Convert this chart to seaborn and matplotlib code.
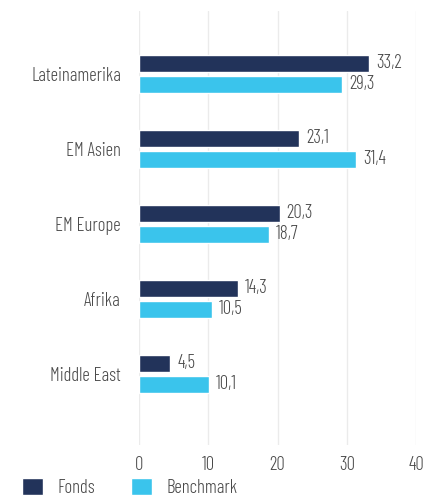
import matplotlib
matplotlib.use("Agg")
import matplotlib.pyplot as plt
from matplotlib.patches import Patch
import pandas as pd
import seaborn as sns

regions = ["Lateinamerika", "EM Asien", "EM Europe", "Afrika", "Middle East"]
fonds = [33.2, 23.1, 20.3, 14.3, 4.5]
benchmark = [29.3, 31.4, 18.7, 10.5, 10.1]
series = ["Fonds", "Benchmark"]
colors = ["#22335A", "#3AC4EC"]
xticks = [0, 10, 20, 30, 40]

sns.set_theme(style="white")
plt.rcParams["font.family"] = ["Barlow Condensed", "DejaVu Sans"]
plt.rcParams["font.weight"] = 300
TXT = "#4A4A4A"
FS = 13.5

df = pd.DataFrame({
    "region": regions * 2,
    "value": fonds + benchmark,
    "series": [series[0]] * len(regions) + [series[1]] * len(regions),
})

fig = plt.figure(figsize=(4.25, 4.99), dpi=100)
ax = fig.add_axes([0.327, 0.108, 0.652, 0.870])
sns.barplot(data=df, x="value", y="region", hue="series", order=regions,
            hue_order=series, palette=colors, width=0.56, gap=0.16,
            orient="h", legend=False, ax=ax, saturation=1)

for cont in ax.containers:
    ax.bar_label(cont, labels=[f"{v:.1f}".replace(".", ",") for v in cont.datavalues],
                 padding=5, fontsize=FS, color=TXT)

ax.set_xlim(0, 40)
ax.set_ylim(4.95, -0.84)
ax.set_xticks(xticks)
ax.set_xticklabels([str(t) for t in xticks])
ax.grid(axis="x", color="#EBEBEB", linewidth=1)
ax.set_axisbelow(True)
for s in ax.spines.values():
    s.set_visible(False)
ax.set_xlabel("")
ax.set_ylabel("")
ax.tick_params(axis="both", length=0, labelsize=FS, colors=TXT)
ax.tick_params(axis="y", pad=13)
ax.tick_params(axis="x", pad=8)

handles = [Patch(facecolor=c, label=s) for c, s in zip(colors, series)]
fig.legend(handles=handles, loc="lower left", bbox_to_anchor=(0.052, 0.004),
           ncol=2, frameon=False, fontsize=FS, handlelength=1.1, handleheight=1.0,
           handletextpad=0.8, columnspacing=1.9, labelcolor=TXT,
           borderaxespad=0, borderpad=0)

fig.savefig("out.png", dpi=100)
